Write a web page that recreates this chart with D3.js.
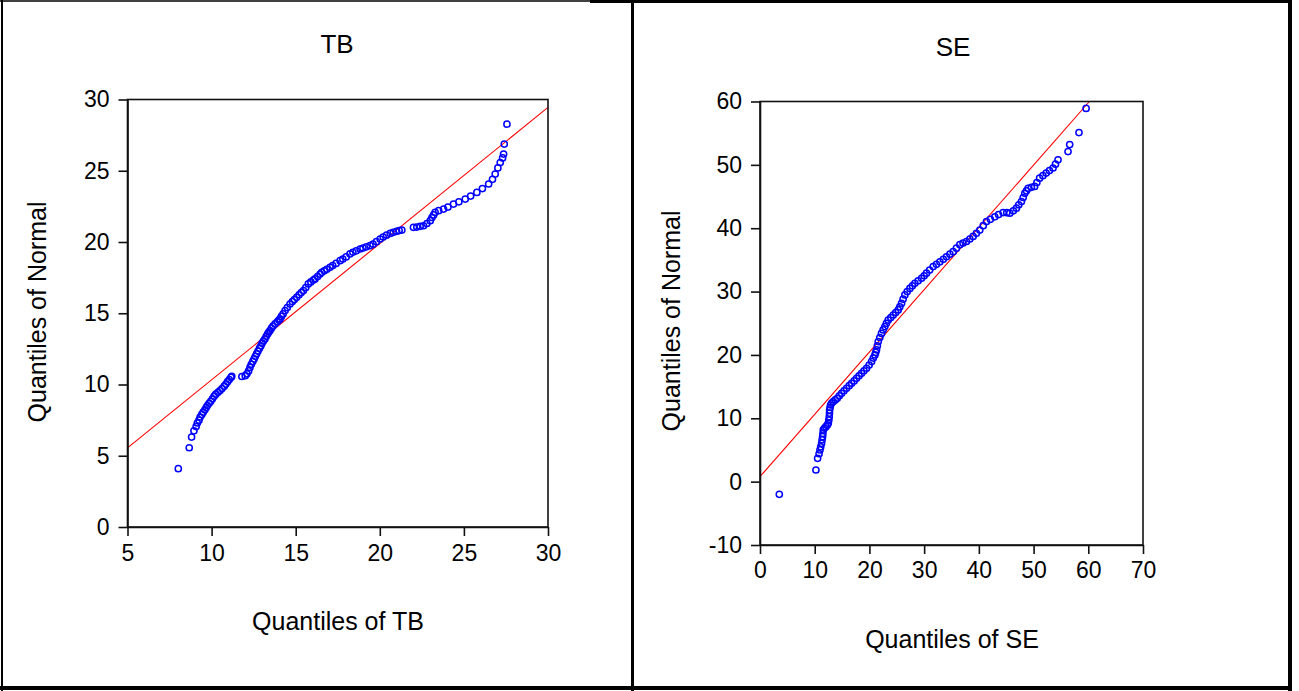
<!DOCTYPE html>
<html>
<head>
<meta charset="utf-8">
<script src="https://cdn.jsdelivr.net/npm/d3@7"></script>
<style>
  body { margin: 0; background: #fff; }
  svg { display: block; }
  text { font-family: "Liberation Sans", Arial, sans-serif; fill: #000; }
</style>
</head>
<body>
<div id="chart"></div>
<script>
// TB: [quantile of TB, quantile of normal]
const tbPoints = [
  [8.02, 4.09], [8.67, 5.56], [8.81, 6.31], [8.95, 6.75], [9.08, 7.05], [9.15, 7.3], [9.25, 7.5],
  [9.32, 7.72], [9.42, 7.9], [9.5, 8.06], [9.6, 8.22], [9.68, 8.38], [9.75, 8.52], [9.85, 8.68],
  [9.95, 8.82], [10.05, 9.0], [10.15, 9.18], [10.25, 9.32], [10.38, 9.45], [10.5, 9.58],
  [10.62, 9.72], [10.75, 9.88], [10.85, 10.03], [10.95, 10.2], [11.05, 10.35], [11.15, 10.5],
  [11.2, 10.58],
  [11.8, 10.56], [12.0, 10.62], [12.1, 10.75], [12.2, 10.95], [12.28, 11.2], [12.36, 11.42],
  [12.45, 11.62], [12.53, 11.8], [12.6, 11.98], [12.68, 12.15], [12.76, 12.35], [12.85, 12.55],
  [12.93, 12.72], [13.0, 12.9], [13.08, 13.05], [13.17, 13.2], [13.25, 13.38], [13.33, 13.55],
  [13.4, 13.68], [13.47, 13.79], [13.56, 13.95], [13.65, 14.1], [13.77, 14.25], [13.9, 14.4],
  [14.0, 14.52], [14.07, 14.6], [14.15, 14.78], [14.25, 14.95], [14.37, 15.19], [14.5, 15.4],
  [14.66, 15.65], [14.8, 15.82], [14.92, 15.96], [15.06, 16.12], [15.2, 16.3], [15.33, 16.45],
  [15.46, 16.59], [15.6, 16.8], [15.75, 17.06], [15.9, 17.2], [16.05, 17.33], [16.15, 17.41],
  [16.3, 17.58], [16.45, 17.75], [16.55, 17.87], [16.7, 17.98], [16.85, 18.08], [17.04, 18.22],
  [17.2, 18.35], [17.4, 18.5], [17.64, 18.69], [17.8, 18.8], [18.0, 18.95], [18.23, 19.16],
  [18.4, 19.28], [18.6, 19.38], [18.83, 19.51], [19.0, 19.58], [19.2, 19.66], [19.42, 19.74],
  [19.6, 19.85], [19.8, 20.02], [20.02, 20.21], [20.2, 20.35], [20.4, 20.48], [20.62, 20.6],
  [20.8, 20.68], [21.0, 20.75], [21.15, 20.8], [21.31, 20.84],
  [22.0, 21.03], [22.2, 21.05], [22.4, 21.1], [22.6, 21.14], [22.8, 21.3], [23.0, 21.5],
  [23.1, 21.72], [23.2, 21.9], [23.29, 22.08], [23.5, 22.2], [23.79, 22.31], [24.05, 22.45],
  [24.38, 22.66], [24.7, 22.82], [25.08, 23.01], [25.4, 23.22], [25.77, 23.48], [26.1, 23.75],
  [26.47, 24.07], [26.7, 24.4], [26.86, 24.77], [27.02, 25.2], [27.16, 25.58], [27.3, 25.9],
  [27.36, 26.17], [27.4, 26.87], [27.56, 28.27]
]
const tbLine = [[5, 5.55], [30, 29.45]]
const tbXTicks = [5, 10, 15, 20, 25, 30]
const tbYTicks = [0, 5, 10, 15, 20, 25, 30]

// SE: [quantile of SE, quantile of normal]
const sePoints = [
  [3.53, -2.0], [10.22, 1.84], [10.53, 3.68], [10.8, 4.4], [10.96, 5.0], [11.1, 5.5], [11.26, 6.05],
  [11.35, 6.6], [11.44, 7.1], [11.5, 7.6], [11.56, 8.16], [11.8, 8.45], [12.05, 8.68], [12.3, 8.95],
  [12.48, 9.2], [12.58, 9.7], [12.66, 10.26], [12.7, 10.8], [12.72, 11.3], [12.8, 11.7], [12.9, 12.1],
  [13.1, 12.4], [13.39, 12.63], [13.75, 12.9], [14.12, 13.16], [14.5, 13.55], [14.91, 13.95],
  [15.35, 14.35], [15.82, 14.74], [16.3, 15.15], [16.74, 15.53], [17.2, 15.9], [17.65, 16.3],
  [18.1, 16.7], [18.56, 17.1], [19.0, 17.5], [19.48, 17.9], [19.95, 18.4], [20.39, 18.95],
  [20.7, 19.5], [21.0, 20.0], [21.15, 20.4], [21.3, 20.8], [21.45, 21.45], [21.61, 22.1],
  [21.9, 22.75], [22.2, 23.4], [22.5, 23.95], [22.82, 24.47], [23.1, 25.0], [23.43, 25.5],
  [23.9, 25.9], [24.35, 26.3], [24.8, 26.7], [25.26, 27.1], [25.55, 27.6], [25.87, 28.16],
  [26.15, 28.8], [26.48, 29.47], [26.9, 30.0], [27.39, 30.5], [27.85, 30.9], [28.3, 31.3],
  [28.9, 31.7], [29.52, 32.1], [30.0, 32.5], [30.43, 32.9], [31.0, 33.4], [31.65, 33.95],
  [32.25, 34.3], [32.87, 34.7], [33.5, 35.1], [34.08, 35.5], [34.7, 35.9], [35.3, 36.3],
  [35.9, 36.85], [36.52, 37.4], [37.1, 37.65], [37.74, 37.9], [38.35, 38.3], [38.95, 38.7],
  [39.55, 39.2], [40.17, 39.7], [40.8, 40.4], [41.39, 41.05], [42.1, 41.4], [42.91, 41.8],
  [43.6, 42.15], [44.43, 42.47], [45.1, 42.45], [45.65, 42.37], [46.3, 42.75], [46.87, 43.16],
  [47.3, 43.7], [47.78, 44.2], [48.1, 44.85], [48.39, 45.5], [48.7, 45.9], [49.0, 46.3],
  [49.6, 46.45], [50.2, 46.6], [50.6, 47.2], [51.1, 47.9], [51.7, 48.3], [52.3, 48.7],
  [52.9, 49.1], [53.56, 49.5], [54.0, 50.1], [54.47, 50.8], [56.3, 52.1], [56.6, 53.2],
  [58.3, 55.1], [59.6, 58.9]
]
const seLine = [[0, 0.8], [60.2, 60]]
const seXTicks = [0, 10, 20, 30, 40, 50, 60, 70]
const seYTicks = [-10, 0, 10, 20, 30, 40, 50, 60]

const W = 1299
const H = 691

const svg = d3.select('#chart').append('svg')
  .attr('width', W)
  .attr('height', H)

// 表の枠線
const border = svg.append('g').attr('stroke', '#000')
border.append('line').attr('x1', 0).attr('x2', 590).attr('y1', 1).attr('y2', 1).attr('stroke-width', 1.5)
border.append('line').attr('x1', 590).attr('x2', 1292).attr('y1', 1.5).attr('y2', 1.5).attr('stroke-width', 3)
border.append('line').attr('x1', 2).attr('x2', 2).attr('y1', 0).attr('y2', 691).attr('stroke-width', 2)
border.append('line').attr('x1', 632.5).attr('x2', 632.5).attr('y1', 0).attr('y2', 691).attr('stroke-width', 3)
border.append('line').attr('x1', 1290).attr('x2', 1290).attr('y1', 0).attr('y2', 691).attr('stroke-width', 4)
border.append('line').attr('x1', 0).attr('x2', 1292).attr('y1', 688).attr('y2', 688).attr('stroke-width', 4)

function drawQQ (cfg) {
  const x = d3.scaleLinear().domain(cfg.xDomain).range([cfg.left, cfg.right])
  const y = d3.scaleLinear().domain(cfg.yDomain).range([cfg.bottom, cfg.top])

  const g = svg.append('g')
  const clipId = 'clip-' + cfg.id

  g.append('clipPath').attr('id', clipId)
    .append('rect')
    .attr('x', cfg.left).attr('y', cfg.top)
    .attr('width', cfg.right - cfg.left).attr('height', cfg.bottom - cfg.top)

  // 参照線
  g.append('path')
    .datum(cfg.line)
    .attr('clip-path', 'url(#' + clipId + ')')
    .attr('fill', 'none')
    .attr('stroke', '#ff0000')
    .attr('stroke-width', 1.1)
    .attr('d', d3.line().x(d => x(d[0])).y(d => y(d[1])))

  // 点
  g.append('g')
    .selectAll('circle')
    .data(cfg.points)
    .enter()
    .append('circle')
    .attr('cx', d => x(d[0]))
    .attr('cy', d => y(d[1]))
    .attr('r', 3.1)
    .attr('fill', 'none')
    .attr('stroke', '#0000ff')
    .attr('stroke-width', 1.5)

  // 枠
  g.append('rect')
    .attr('x', cfg.left).attr('y', cfg.top)
    .attr('width', cfg.right - cfg.left).attr('height', cfg.bottom - cfg.top)
    .attr('fill', 'none')
    .attr('stroke', '#111')
    .attr('stroke-width', 1.6)

  const fmt = d => String(d)
  const xAxis = d3.axisBottom(x).tickValues(cfg.xTicks).tickFormat(fmt).tickSize(9).tickSizeOuter(0).tickPadding(cfg.xPad)
  const yAxis = d3.axisLeft(y).tickValues(cfg.yTicks).tickFormat(fmt).tickSize(9).tickSizeOuter(0).tickPadding(9)

  const gx = g.append('g')
    .attr('transform', 'translate(0,' + cfg.bottom + ')')
    .call(xAxis)
  const gy = g.append('g')
    .attr('transform', 'translate(' + cfg.left + ',0)')
    .call(yAxis)

  for (const a of [gx, gy]) {
    a.select('.domain').attr('stroke', '#111').attr('stroke-width', 1.6)
    a.selectAll('.tick line').attr('stroke', '#111').attr('stroke-width', 1.6)
    a.selectAll('.tick text')
      .attr('font-family', '"Liberation Sans", Arial, sans-serif')
      .attr('font-size', 23)
      .attr('fill', '#000')
  }

  g.append('text')
    .attr('x', cfg.titleX).attr('y', cfg.titleY)
    .attr('text-anchor', 'middle')
    .attr('font-size', 26)
    .text(cfg.title)

  g.append('text')
    .attr('x', cfg.xLabelX).attr('y', cfg.xLabelY)
    .attr('text-anchor', 'middle')
    .attr('font-size', 25)
    .text(cfg.xLabel)

  g.append('text')
    .attr('transform', 'translate(' + cfg.yLabelX + ',' + cfg.yLabelY + ') rotate(-90)')
    .attr('text-anchor', 'middle')
    .attr('font-size', 25)
    .text('Quantiles of Normal')
}

drawQQ({
  id: 'tb',
  points: tbPoints,
  line: tbLine,
  xDomain: [5, 30],
  yDomain: [0, 30],
  xTicks: tbXTicks,
  yTicks: tbYTicks,
  left: 127.5, right: 548, top: 99.5, bottom: 527,
  xPad: 9,
  title: 'TB', titleX: 337, titleY: 53,
  xLabel: 'Quantiles of TB', xLabelX: 338, xLabelY: 630,
  yLabelX: 46, yLabelY: 312
})

drawQQ({
  id: 'se',
  points: sePoints,
  line: seLine,
  xDomain: [0, 70],
  yDomain: [-10, 60],
  xTicks: seXTicks,
  yTicks: seYTicks,
  left: 760, right: 1143, top: 101.5, bottom: 545,
  xPad: 8,
  title: 'SE', titleX: 953, titleY: 56,
  xLabel: 'Quantiles of SE', xLabelX: 952, xLabelY: 648,
  yLabelX: 680, yLabelY: 321
})
</script>
</body>
</html>
